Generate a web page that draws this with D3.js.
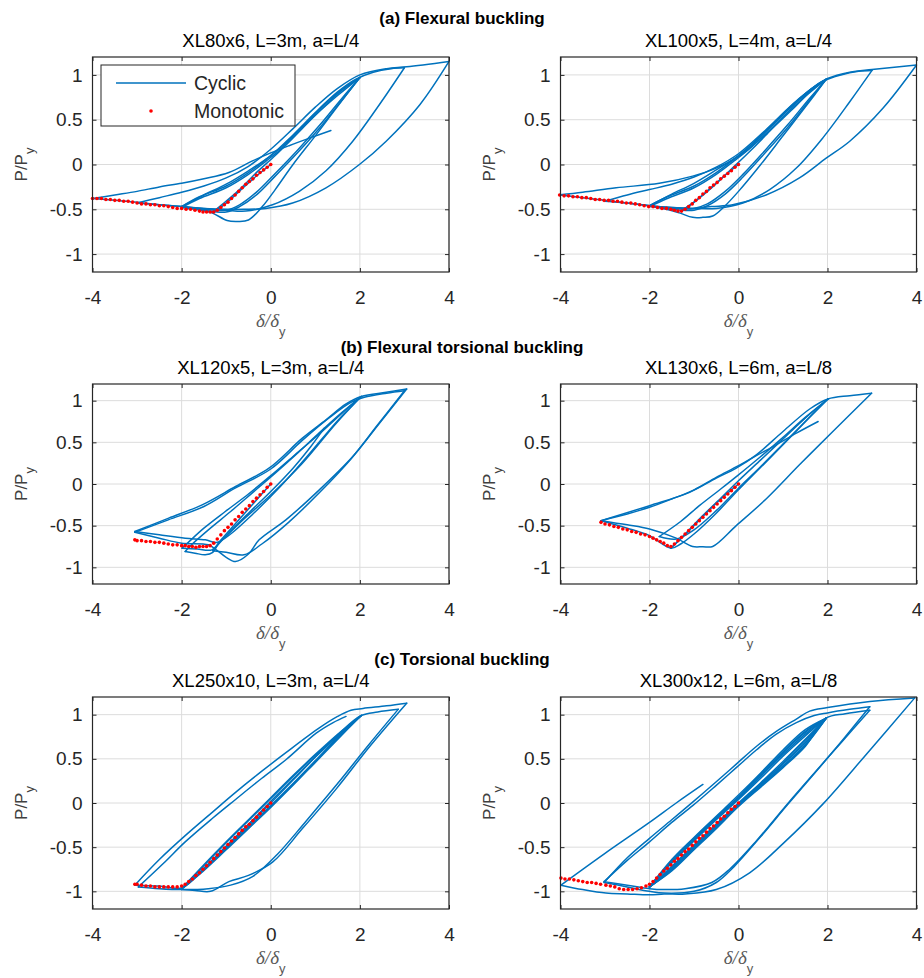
<!DOCTYPE html>
<html><head><meta charset="utf-8">
<script src="https://cdn.jsdelivr.net/npm/d3@7"></script>
<style>body{margin:0;background:#fff}svg{display:block}</style>
</head><body>
<script>
// ---------- data ----------
const sectionTitles = ["(a) Flexural buckling","(b) Flexural torsional buckling","(c) Torsional buckling"];
const panelTitles = ["XL80x6, L=3m, a=L/4","XL100x5, L=4m, a=L/4","XL120x5, L=3m, a=L/4","XL130x6, L=6m, a=L/8","XL250x10, L=3m, a=L/4","XL300x12, L=6m, a=L/8"];
const xTicks = [-4,-2,0,2,4];
const xTickLabels = ["-4","-2","0","2","4"];
const yTicks = [-1,-0.5,0,0.5,1];
const yTickLabels = ["-1","-0.5","0","0.5","1"];
const legendLabels = ["Cyclic","Monotonic"];

const cyc1 = [
[0,0],[-0.3,-0.12],[-0.6,-0.25],[-0.9,-0.39],[-1.1,-0.47],[-1.3,-0.53],
[-1.1,-0.45],[-0.7,-0.28],[-0.3,-0.08],[0.1,0.1],[0.5,0.3],[1.0,0.55],[1.5,0.77],[2.0,0.97],
[1.5,0.65],[1.0,0.32],[0.5,0.0],[0.1,-0.28],[-0.19,-0.47],[-0.5,-0.62],[-0.75,-0.635],[-0.98,-0.625],[-1.32,-0.54],[-1.7,-0.5],[-2.0,-0.48],
[-1.6,-0.38],[-1.0,-0.26],[-0.5,-0.11],[-0.1,0.04],[0.3,0.2],[0.7,0.4],[1.1,0.6],[1.6,0.83],[2.0,0.97],
[1.6,0.72],[1.1,0.41],[0.6,0.13],[0.1,-0.13],[-0.3,-0.33],[-0.7,-0.47],[-1.0,-0.53],[-1.5,-0.51],[-2.0,-0.47],
[-1.6,-0.36],[-1.0,-0.24],[-0.5,-0.09],[-0.1,0.06],[0.3,0.22],[0.7,0.42],[1.1,0.62],[1.6,0.84],[2.0,0.97],
[1.6,0.74],[1.1,0.44],[0.6,0.16],[0.1,-0.1],[-0.3,-0.3],[-0.7,-0.45],[-1.0,-0.51],[-1.5,-0.5],[-2.0,-0.47],
[-1.5,-0.34],[-1.0,-0.22],[-0.5,-0.07],[0,0.1],[0.5,0.33],[1.0,0.58],[1.5,0.81],[1.9,0.95],[2.3,1.03],[2.7,1.07],[3.0,1.08],
[2.44,0.67],[1.84,0.26],[1.24,-0.07],[0.64,-0.3],[0.04,-0.45],[-0.56,-0.52],[-1.0,-0.51],[-1.5,-0.49],[-2.0,-0.47],[-2.5,-0.45],[-3.0,-0.43],
[-2.5,-0.37],[-2.0,-0.31],[-1.5,-0.24],[-1.0,-0.15],[-0.5,-0.02],[0,0.17],[0.5,0.4],[1.0,0.64],[1.5,0.85],[2.0,1.0],[2.6,1.07],[3.05,1.09],[4.0,1.15],
[3.35,0.67],[2.59,0.26],[1.99,0.0],[1.24,-0.26],[0.49,-0.43],[-0.11,-0.49],[-0.6,-0.5],[-1.0,-0.5],[-1.5,-0.49],[-2.0,-0.47],[-2.5,-0.45],[-3.0,-0.42],[-3.5,-0.4],[-4.0,-0.38],
[-3.5,-0.34],[-3.0,-0.3],[-2.5,-0.25],[-2.0,-0.21],[-1.5,-0.16],[-0.94,-0.09],[-0.41,0.04],[0,0.13],[0.41,0.21],[0.9,0.3],[1.35,0.38]
];
const cyc2 = [
[0,0],[-0.3,-0.12],[-0.6,-0.25],[-0.9,-0.38],[-1.1,-0.46],[-1.3,-0.52],
[-1.0,-0.42],[-0.6,-0.26],[-0.2,-0.07],[0.2,0.12],[0.6,0.32],[1.0,0.53],[1.5,0.76],[1.97,0.95],
[1.5,0.64],[1.0,0.32],[0.5,0.0],[0.0,-0.3],[-0.32,-0.47],[-0.58,-0.575],[-0.8,-0.59],[-1.03,-0.59],[-1.33,-0.54],[-1.7,-0.49],[-2.0,-0.47],
[-1.6,-0.38],[-1.0,-0.26],[-0.5,-0.11],[-0.1,0.04],[0.3,0.2],[0.7,0.4],[1.1,0.6],[1.6,0.82],[1.97,0.95],
[1.6,0.72],[1.1,0.41],[0.6,0.13],[0.1,-0.14],[-0.3,-0.33],[-0.7,-0.46],[-1.0,-0.51],[-1.5,-0.5],[-2.0,-0.46],
[-1.6,-0.36],[-1.0,-0.24],[-0.5,-0.09],[-0.1,0.06],[0.3,0.22],[0.7,0.42],[1.1,0.62],[1.6,0.83],[1.97,0.95],
[1.6,0.74],[1.1,0.44],[0.6,0.16],[0.1,-0.11],[-0.3,-0.3],[-0.7,-0.44],[-1.0,-0.49],[-1.5,-0.49],[-2.0,-0.46],
[-1.5,-0.33],[-1.0,-0.21],[-0.5,-0.06],[0,0.1],[0.5,0.32],[1.0,0.56],[1.5,0.79],[1.9,0.93],[2.3,1.0],[2.7,1.04],[3.0,1.05],
[2.5,0.7],[1.9,0.3],[1.3,-0.04],[0.7,-0.28],[0.1,-0.43],[-0.5,-0.49],[-1.0,-0.49],[-1.5,-0.48],[-2.0,-0.46],[-2.5,-0.43],[-3.0,-0.41],
[-2.5,-0.34],[-2.0,-0.28],[-1.5,-0.22],[-1.0,-0.14],[-0.5,-0.03],[0,0.12],[0.6,0.38],[1.2,0.66],[1.7,0.87],[2.0,0.96],[2.5,1.03],[3.0,1.06],[4.0,1.11],
[3.25,0.63],[2.5,0.26],[1.97,0.07],[1.37,-0.15],[0.62,-0.34],[-0.13,-0.45],[-0.6,-0.47],[-1.03,-0.49],[-1.5,-0.48],[-2.0,-0.46],[-2.5,-0.43],[-3.0,-0.4],[-3.5,-0.37],[-4.03,-0.34],
[-3.5,-0.31],[-2.75,-0.26],[-1.78,-0.21],[-1.03,-0.13],[-0.5,-0.04],[0,0.09],[0.62,0.34],[1.22,0.62],[1.75,0.88],[1.97,0.95]
];
const cyc3 = [
[0,0],[-0.4,-0.24],[-0.8,-0.48],[-1.1,-0.66],[-1.32,-0.79],[-1.65,-0.78],[-1.99,-0.77],
[-1.85,-0.7],[-1.5,-0.53],[-1.02,-0.33],[-0.5,-0.12],[0,0.1],[0.5,0.33],[1.09,0.6],[1.6,0.85],[2.03,1.05],
[1.47,0.73],[0.71,0.25],[-0.04,-0.15],[-0.6,-0.42],[-0.95,-0.6],[-1.17,-0.71],[-1.3,-0.82],[-1.47,-0.85],[-1.7,-0.83],[-1.92,-0.81],
[-1.8,-0.74],[-1.4,-0.55],[-0.9,-0.33],[-0.4,-0.1],[0.1,0.13],[0.6,0.37],[1.1,0.62],[1.6,0.86],[2.03,1.05],
[1.5,0.76],[0.8,0.32],[0.2,-0.04],[-0.4,-0.36],[-0.9,-0.6],[-1.2,-0.7],[-1.47,-0.67],[-1.92,-0.65],[-2.5,-0.61],[-3.05,-0.57],
[-2.29,-0.41],[-1.54,-0.25],[-0.79,-0.03],[-0.04,0.19],[0.71,0.55],[1.24,0.77],[1.69,0.96],[2.03,1.05],[2.59,1.1],[3.05,1.14],
[2.44,0.73],[1.84,0.33],[1.09,-0.07],[0.34,-0.43],[-0.26,-0.67],[-0.5,-0.84],[-0.79,-0.93],[-1.0,-0.88],[-1.2,-0.8],[-1.4,-0.73],[-2.0,-0.71],[-2.5,-0.65],[-3.05,-0.58],
[-2.3,-0.43],[-1.5,-0.27],[-0.8,-0.05],[0,0.18],[0.7,0.52],[1.3,0.79],[1.8,0.98],[2.1,1.04],[2.6,1.09],[3.0,1.12],
[2.4,0.71],[1.8,0.3],[1.1,-0.1],[0.4,-0.46],[-0.2,-0.72],[-0.6,-0.85],[-1.0,-0.82],[-1.3,-0.8],
[-1.0,-0.62],[-0.5,-0.35],[0,-0.09],[0.5,0.19],[0.9,0.45],[1.2,0.67]
];
const cyc4 = [
[0,0],[-0.5,-0.23],[-1.0,-0.5],[-1.3,-0.66],[-1.52,-0.77],
[-1.2,-0.6],[-0.88,-0.42],[-0.4,-0.17],[0,0.04],[0.5,0.29],[1.0,0.54],[1.5,0.79],[2.01,1.02],
[1.5,0.75],[1.0,0.48],[0.5,0.21],[0,-0.05],[-0.5,-0.32],[-1.0,-0.55],[-1.4,-0.66],[-1.78,-0.63],
[-1.3,-0.45],[-0.88,-0.26],[-0.4,-0.06],[0,0.11],[0.5,0.33],[1.0,0.56],[1.5,0.8],[2.01,1.02],
[1.6,0.8],[1.0,0.47],[0.5,0.2],[0,-0.07],[-0.5,-0.35],[-1.0,-0.6],[-1.3,-0.72],[-1.52,-0.77],[-2.0,-0.62],[-2.5,-0.53],[-3.09,-0.44],
[-2.0,-0.26],[-1.1,-0.1],[-0.5,0.07],[-0.05,0.19],[0.4,0.35],[1.0,0.63],[1.6,0.9],[2.01,1.02],[2.5,1.06],[2.99,1.09],
[2.12,0.63],[1.37,0.23],[0.62,-0.18],[-0.05,-0.5],[-0.58,-0.75],[-0.8,-0.752],[-1.03,-0.75],[-1.4,-0.65],[-2.0,-0.54],[-2.5,-0.49],[-3.09,-0.44],
[-2.5,-0.36],[-2.0,-0.28],[-1.5,-0.18],[-1.0,-0.07],[-0.5,0.08],[0,0.22],[0.4,0.34],[0.85,0.47],[1.3,0.61],[1.79,0.75]
];
const cyc5 = [
[0,0],[-0.5,-0.24],[-1.0,-0.49],[-1.5,-0.74],[-1.8,-0.89],[-2.0,-0.97],
[-1.6,-0.79],[-1.0,-0.51],[-0.5,-0.27],[0,-0.03],[0.5,0.22],[1.0,0.48],[1.5,0.74],[2.03,0.99],
[1.6,0.81],[1.0,0.54],[0.5,0.3],[0,0.05],[-0.5,-0.2],[-1.0,-0.45],[-1.5,-0.71],[-2.0,-0.97],
[-1.6,-0.8],[-1.0,-0.52],[-0.5,-0.28],[0,-0.04],[0.5,0.21],[1.0,0.47],[1.5,0.73],[2.03,0.99],
[1.6,0.82],[1.0,0.55],[0.5,0.31],[0,0.06],[-0.5,-0.19],[-1.0,-0.44],[-1.5,-0.7],[-2.0,-0.97],
[-1.6,-0.81],[-1.0,-0.53],[-0.5,-0.29],[0,-0.05],[0.5,0.2],[1.0,0.46],[1.5,0.72],[2.03,0.99],
[1.6,0.8],[1.0,0.52],[0.5,0.27],[0,0.02],[-0.5,-0.24],[-1.0,-0.49],[-1.5,-0.74],[-1.99,-0.96],[-2.5,-0.94],[-3.05,-0.93],
[-2.5,-0.64],[-1.92,-0.37],[-1.3,-0.1],[-0.79,0.12],[-0.2,0.36],[0.34,0.57],[1.09,0.85],[1.5,0.98],[1.8,1.05],[2.07,1.07],[2.6,1.1],[3.05,1.13],
[2.22,0.64],[1.47,0.16],[0.71,-0.29],[0.04,-0.67],[-0.5,-0.82],[-0.94,-0.89],[-1.35,-1.0],[-1.7,-0.99],[-2.0,-0.98],
[-1.6,-0.79],[-1.0,-0.5],[-0.5,-0.25],[0,0.0],[0.5,0.26],[1.0,0.52],[1.5,0.77],[2.03,0.99],[2.4,1.03],[2.86,1.06],
[2.2,0.66],[1.5,0.22],[0.8,-0.2],[0.15,-0.58],[-0.4,-0.83],[-0.9,-0.93],[-1.4,-0.97],[-2.0,-0.98],[-2.5,-0.97],[-2.97,-0.95],
[-2.4,-0.68],[-1.92,-0.44],[-1.3,-0.17],[-0.79,0.04],[-0.2,0.28],[0.34,0.49],[1.02,0.79],[1.4,0.91],[1.69,0.98]
];
const cyc6 = [
[0,0],[-0.5,-0.24],[-1.0,-0.48],[-1.5,-0.72],[-1.8,-0.87],[-2.0,-0.95],
[-1.5,-0.72],[-1.0,-0.48],[-0.5,-0.24],[0,0.0],[0.5,0.23],[1.0,0.47],[1.5,0.72],[1.97,0.96],
[1.5,0.76],[1.0,0.53],[0.5,0.28],[0,0.04],[-0.5,-0.19],[-1.0,-0.43],[-1.5,-0.68],[-2.0,-0.95],
[-1.5,-0.73],[-1.0,-0.49],[-0.5,-0.25],[0,-0.01],[0.5,0.22],[1.0,0.45],[1.5,0.7],[1.97,0.96],
[1.5,0.78],[1.0,0.55],[0.5,0.3],[0,0.05],[-0.5,-0.18],[-1.0,-0.42],[-1.5,-0.67],[-2.0,-0.95],
[-1.5,-0.74],[-1.0,-0.5],[-0.5,-0.26],[0,-0.02],[0.5,0.21],[1.0,0.44],[1.5,0.68],[1.97,0.96],
[1.5,0.8],[1.0,0.57],[0.5,0.31],[0,0.06],[-0.5,-0.17],[-1.0,-0.41],[-1.5,-0.66],[-2.0,-0.95],
[-1.5,-0.75],[-1.0,-0.51],[-0.5,-0.27],[0,-0.03],[0.5,0.2],[1.0,0.42],[1.5,0.66],[1.97,0.96],
[1.5,0.81],[1.0,0.58],[0.5,0.33],[0,0.07],[-0.5,-0.16],[-1.0,-0.4],[-1.5,-0.65],[-2.0,-0.95],
[-1.5,-0.76],[-1.0,-0.52],[-0.5,-0.28],[0,-0.03],[0.5,0.19],[1.0,0.41],[1.5,0.65],[1.97,0.96],
[1.5,0.83],[1.0,0.6],[0.5,0.34],[0,0.09],[-0.5,-0.15],[-1.0,-0.39],[-1.5,-0.64],[-2.0,-0.95],
[-1.5,-0.77],[-1.0,-0.53],[-0.5,-0.29],[0,-0.04],[0.5,0.18],[1.0,0.4],[1.5,0.64],[1.97,0.96],
[2.4,1.01],[2.95,1.05],
[2.3,0.68],[1.6,0.28],[1.0,-0.07],[0.4,-0.43],[-0.2,-0.75],[-0.6,-0.9],[-1.2,-0.97],[-1.67,-0.98],[-2.0,-0.97],[-2.5,-0.93],[-3.02,-0.89],
[-2.5,-0.65],[-2.0,-0.44],[-1.5,-0.22],[-1.03,-0.03],[-0.5,0.2],[-0.05,0.4],[0.4,0.6],[0.85,0.78],[1.3,0.91],[1.7,0.99],[2.0,1.02],[2.5,1.06],[2.95,1.09],
[2.35,0.72],[1.7,0.33],[1.1,-0.02],[0.5,-0.38],[-0.1,-0.72],[-0.5,-0.9],[-1.0,-1.0],[-1.67,-1.02],[-2.0,-1.0],[-2.5,-0.95],[-3.02,-0.9],
[-2.5,-0.62],[-2.0,-0.4],[-1.5,-0.19],[-1.03,0.01],[-0.5,0.24],[-0.05,0.44],[0.4,0.64],[0.85,0.81],[1.3,0.95],[1.6,1.04],[2.0,1.08],[2.95,1.15],[3.96,1.19],
[2.87,0.55],[1.9,-0.01],[1.0,-0.46],[0.25,-0.79],[-0.5,-0.98],[-1.2,-1.03],[-1.67,-1.03],[-2.0,-1.04],[-2.5,-1.03],[-2.98,-1.02],[-3.5,-0.98],[-3.99,-0.93],
[-3.0,-0.57],[-2.0,-0.22],[-1.4,0.0],[-0.8,0.21]
];

const mono1 = [[0,0],[-0.08,-0.03],[-0.16,-0.06],[-0.24,-0.09],[-0.32,-0.12],[-0.4,-0.16],[-0.48,-0.19],[-0.56,-0.22],[-0.64,-0.26],[-0.72,-0.3],[-0.8,-0.34],[-0.88,-0.38],[-0.96,-0.42],[-1.04,-0.45],[-1.12,-0.48],[-1.2,-0.51],[-1.28,-0.53],[-1.36,-0.53],[-1.44,-0.53],[-1.52,-0.53],[-1.6,-0.52],[-1.7,-0.51],[-1.8,-0.5],[-1.9,-0.5],[-2.0,-0.49],[-2.1,-0.49],[-2.2,-0.48],[-2.3,-0.47],[-2.4,-0.46],[-2.5,-0.46],[-2.6,-0.45],[-2.7,-0.45],[-2.8,-0.44],[-2.9,-0.44],[-3.0,-0.43],[-3.1,-0.42],[-3.2,-0.41],[-3.3,-0.41],[-3.4,-0.4],[-3.5,-0.4],[-3.6,-0.39],[-3.7,-0.39],[-3.8,-0.38],[-3.9,-0.38],[-4.0,-0.38]];
const mono2 = [[0,0],[-0.08,-0.03],[-0.16,-0.07],[-0.24,-0.1],[-0.32,-0.13],[-0.4,-0.16],[-0.48,-0.2],[-0.56,-0.23],[-0.64,-0.26],[-0.72,-0.3],[-0.8,-0.33],[-0.88,-0.37],[-0.96,-0.4],[-1.04,-0.44],[-1.12,-0.47],[-1.2,-0.5],[-1.28,-0.52],[-1.36,-0.52],[-1.44,-0.51],[-1.52,-0.5],[-1.62,-0.49],[-1.72,-0.49],[-1.82,-0.48],[-1.92,-0.47],[-2.02,-0.47],[-2.12,-0.46],[-2.22,-0.45],[-2.32,-0.44],[-2.42,-0.43],[-2.52,-0.43],[-2.62,-0.42],[-2.72,-0.41],[-2.82,-0.41],[-2.92,-0.4],[-3.02,-0.4],[-3.12,-0.39],[-3.22,-0.39],[-3.32,-0.38],[-3.42,-0.37],[-3.52,-0.37],[-3.62,-0.36],[-3.72,-0.36],[-3.82,-0.35],[-3.92,-0.35],[-4.02,-0.34]];
const mono3 = [[0,0],[-0.08,-0.04],[-0.16,-0.09],[-0.24,-0.13],[-0.32,-0.17],[-0.4,-0.21],[-0.48,-0.26],[-0.56,-0.3],[-0.64,-0.34],[-0.72,-0.39],[-0.8,-0.43],[-0.88,-0.48],[-0.96,-0.52],[-1.04,-0.56],[-1.12,-0.61],[-1.2,-0.66],[-1.28,-0.71],[-1.36,-0.74],[-1.44,-0.75],[-1.52,-0.75],[-1.6,-0.75],[-1.68,-0.76],[-1.76,-0.75],[-1.84,-0.75],[-1.92,-0.74],[-2.0,-0.74],[-2.1,-0.73],[-2.2,-0.73],[-2.3,-0.72],[-2.4,-0.71],[-2.5,-0.7],[-2.6,-0.7],[-2.7,-0.69],[-2.8,-0.69],[-2.9,-0.68],[-3.0,-0.68],[-3.05,-0.67]];
const mono4 = [[0,0],[-0.08,-0.04],[-0.16,-0.08],[-0.24,-0.12],[-0.32,-0.16],[-0.4,-0.2],[-0.48,-0.24],[-0.56,-0.28],[-0.64,-0.32],[-0.72,-0.36],[-0.8,-0.4],[-0.88,-0.44],[-0.96,-0.48],[-1.04,-0.52],[-1.12,-0.56],[-1.2,-0.6],[-1.28,-0.64],[-1.36,-0.68],[-1.44,-0.72],[-1.52,-0.75],[-1.6,-0.74],[-1.68,-0.71],[-1.76,-0.69],[-1.84,-0.67],[-1.92,-0.65],[-2.0,-0.63],[-2.1,-0.61],[-2.2,-0.6],[-2.3,-0.58],[-2.4,-0.57],[-2.5,-0.55],[-2.6,-0.54],[-2.7,-0.52],[-2.8,-0.51],[-2.9,-0.49],[-3.0,-0.48],[-3.09,-0.46]];
const mono5 = [[0,0],[-0.08,-0.04],[-0.16,-0.08],[-0.24,-0.12],[-0.32,-0.16],[-0.4,-0.2],[-0.48,-0.24],[-0.56,-0.27],[-0.64,-0.31],[-0.72,-0.35],[-0.8,-0.39],[-0.88,-0.43],[-0.96,-0.47],[-1.04,-0.51],[-1.12,-0.55],[-1.2,-0.59],[-1.28,-0.63],[-1.36,-0.67],[-1.44,-0.71],[-1.52,-0.75],[-1.6,-0.79],[-1.68,-0.82],[-1.76,-0.86],[-1.84,-0.89],[-1.92,-0.92],[-2.0,-0.94],[-2.1,-0.95],[-2.2,-0.95],[-2.3,-0.95],[-2.4,-0.95],[-2.5,-0.95],[-2.6,-0.95],[-2.7,-0.94],[-2.8,-0.94],[-2.9,-0.93],[-3.0,-0.92],[-3.05,-0.92]];
const mono6 = [[0,0],[-0.08,-0.04],[-0.16,-0.07],[-0.24,-0.11],[-0.32,-0.15],[-0.4,-0.18],[-0.48,-0.22],[-0.56,-0.26],[-0.64,-0.29],[-0.72,-0.33],[-0.8,-0.37],[-0.88,-0.4],[-0.96,-0.44],[-1.04,-0.48],[-1.12,-0.52],[-1.2,-0.55],[-1.28,-0.59],[-1.36,-0.63],[-1.44,-0.66],[-1.52,-0.7],[-1.6,-0.74],[-1.68,-0.77],[-1.76,-0.81],[-1.84,-0.85],[-1.92,-0.89],[-2.0,-0.92],[-2.08,-0.94],[-2.18,-0.96],[-2.28,-0.97],[-2.38,-0.98],[-2.48,-0.98],[-2.58,-0.98],[-2.68,-0.97],[-2.78,-0.95],[-2.88,-0.94],[-2.98,-0.93],[-3.1,-0.92],[-3.2,-0.91],[-3.3,-0.9],[-3.4,-0.9],[-3.5,-0.89],[-3.6,-0.88],[-3.7,-0.87],[-3.8,-0.86],[-3.9,-0.86],[-3.99,-0.85]];

const cyclicSeries = [cyc1,cyc2,cyc3,cyc4,cyc5,cyc6];
const monoSeries = [mono1,mono2,mono3,mono4,mono5,mono6];

// ---------- layout ----------
const W = 924, H = 978;
const colX = [[92.5,449],[560.5,916.5]];
const rowY = [[57,272],[384,584],[697,909]];
const titleY = [24,353,665];
const BLUE = "#0072BD", RED = "#FF0000", INK = "#262626";
const SANS = "'Liberation Sans', Arial, Helvetica, sans-serif";

const svg = d3.select("body").append("svg").attr("width",W).attr("height",H)
  .style("font-family",SANS);

sectionTitles.forEach((t,i)=>{
  svg.append("text").attr("x",W/2).attr("y",titleY[i]).attr("text-anchor","middle")
    .attr("font-weight","bold").attr("font-size",17).attr("fill","#000").text(t);
});

// split a load path into branches at every reversal of displacement direction
function branches(pts){
  const out=[]; let cur=[pts[0]], dir=0;
  for(let k=1;k<pts.length;k++){
    const s=Math.sign(pts[k][0]-pts[k-1][0]);
    if(dir!==0 && s!==0 && s!==dir){ out.push(cur); cur=[pts[k-1]]; }
    if(s!==0) dir=s;
    cur.push(pts[k]);
  }
  out.push(cur);
  return out;
}

panelTitles.forEach((title,i)=>{
  const col = i%2, row = Math.floor(i/2);
  const [x0,x1] = colX[col], [y0,y1] = rowY[row];
  const x = d3.scaleLinear().domain([-4,4]).range([x0,x1]);
  const y = d3.scaleLinear().domain([-1.2,1.2]).range([y1,y0]);
  const g = svg.append("g");

  g.append("rect").attr("x",x0).attr("y",y0).attr("width",x1-x0).attr("height",y1-y0).attr("fill","#fff");
  g.append("g").selectAll("line").data(xTicks).join("line")
    .attr("x1",d=>x(d)).attr("x2",d=>x(d)).attr("y1",y0).attr("y2",y1)
    .attr("stroke","#dcdcdc").attr("stroke-width",1);
  g.append("g").selectAll("line").data(yTicks).join("line")
    .attr("y1",d=>y(d)).attr("y2",d=>y(d)).attr("x1",x0).attr("x2",x1)
    .attr("stroke","#dcdcdc").attr("stroke-width",1);

  const clipId = "clip"+i;
  svg.append("clipPath").attr("id",clipId).append("rect")
    .attr("x",x0).attr("y",y0-2).attr("width",x1-x0+1).attr("height",y1-y0+4);

  const ln = d3.line().x(d=>x(d[0])).y(d=>y(d[1])).curve(d3.curveCatmullRom.alpha(0.5));
  g.append("g").attr("clip-path",`url(#${clipId})`)
    .selectAll("path").data(branches(cyclicSeries[i])).join("path")
    .attr("d",ln).attr("fill","none").attr("stroke",BLUE).attr("stroke-width",1.5)
    .attr("stroke-linejoin","round").attr("stroke-linecap","round");

  g.append("g").selectAll("circle").data(monoSeries[i]).join("circle")
    .attr("cx",d=>x(d[0])).attr("cy",d=>y(d[1])).attr("r",1.8).attr("fill",RED);

  const styleAxis = a => { a.select(".domain").remove();
    a.selectAll(".tick line").attr("stroke",INK);
    a.selectAll("text").attr("fill",INK).style("font-family",SANS).attr("font-size",19); };
  g.append("g").attr("transform",`translate(0,${y1})`)
    .call(d3.axisBottom(x).tickValues(xTicks).tickFormat((d,k)=>xTickLabels[k]).tickSizeInner(-4).tickSizeOuter(0).tickPadding(19)).call(styleAxis);
  g.append("g").attr("transform",`translate(0,${y0})`)
    .call(d3.axisTop(x).tickValues(xTicks).tickFormat("").tickSizeInner(-4).tickSizeOuter(0)).call(styleAxis);
  g.append("g").attr("transform",`translate(${x0},0)`)
    .call(d3.axisLeft(y).tickValues(yTicks).tickFormat((d,k)=>yTickLabels[k]).tickSizeInner(-4).tickSizeOuter(0).tickPadding(10)).call(styleAxis);
  g.append("g").attr("transform",`translate(${x1},0)`)
    .call(d3.axisRight(y).tickValues(yTicks).tickFormat("").tickSizeInner(-4).tickSizeOuter(0)).call(styleAxis);

  g.append("rect").attr("x",x0).attr("y",y0).attr("width",x1-x0).attr("height",y1-y0)
    .attr("fill","none").attr("stroke",INK).attr("stroke-width",1.2);

  svg.append("text").attr("x",(x0+x1)/2).attr("y",y0-10).attr("text-anchor","middle")
    .attr("font-size",18.5).attr("fill","#000").text(title);

  const xl = svg.append("text").attr("x",(x0+x1)/2).attr("y",y1+55).attr("text-anchor","middle").attr("fill","#595959");
  xl.append("tspan").style("font-family","'Liberation Serif','Times New Roman',serif").attr("font-style","italic").attr("font-size",19).text("δ/δ");
  xl.append("tspan").attr("font-size",13).attr("dy",9).text("y");

  const yl = svg.append("text").attr("transform",`translate(${x0-66},${(y0+y1)/2}) rotate(-90)`)
    .attr("text-anchor","middle").attr("fill","#404040");
  yl.append("tspan").attr("font-size",17).text("P/P");
  yl.append("tspan").attr("font-size",13).attr("dy",7).text("y");

  if(i===0){
    const lg = svg.append("g");
    lg.append("rect").attr("x",101).attr("y",65).attr("width",194).attr("height",61)
      .attr("fill","#fff").attr("stroke",INK).attr("stroke-width",1);
    lg.append("line").attr("x1",116).attr("x2",186).attr("y1",83).attr("y2",83)
      .attr("stroke",BLUE).attr("stroke-width",1.5);
    lg.append("circle").attr("cx",151).attr("cy",111).attr("r",1.8).attr("fill",RED);
    lg.append("text").attr("x",194).attr("y",90).attr("font-size",19.5).attr("fill",INK).text(legendLabels[0]);
    lg.append("text").attr("x",194).attr("y",118).attr("font-size",19.5).attr("fill",INK).text(legendLabels[1]);
  }
});
</script>
</body></html>
